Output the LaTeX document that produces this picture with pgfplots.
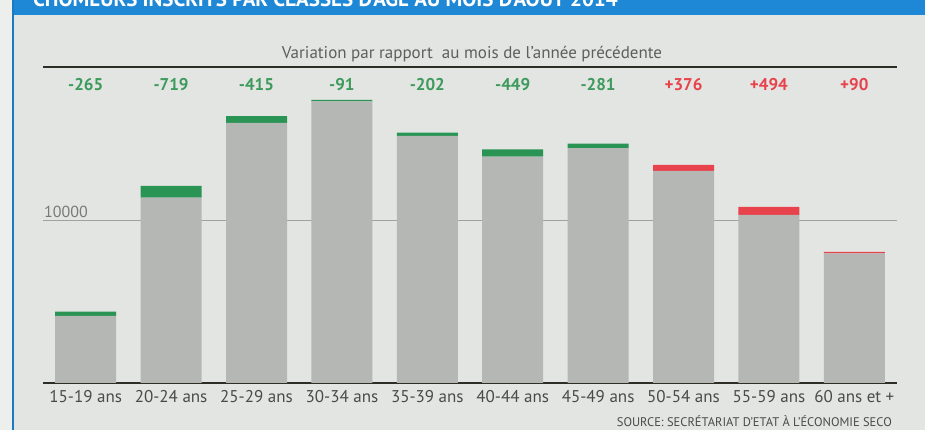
\documentclass[border=0pt]{standalone}
\usepackage{fontspec}
\setmainfont{PT Sans}
\usepackage{pgfplots}
\pgfplotsset{compat=1.18}
\definecolor{panelbg}{HTML}{E3E5E2}
\definecolor{stripbg}{HTML}{EDEFED}
\definecolor{bannerblue}{HTML}{1E88D6}
\definecolor{bargray}{HTML}{B5B7B5}
\definecolor{bargreen}{HTML}{2A9455}
\definecolor{txtgreen}{HTML}{3D9A5C}
\definecolor{barred}{HTML}{E8424C}
\definecolor{txtdark}{HTML}{4A4A4A}
\definecolor{txtmid}{HTML}{5E5E5E}
\definecolor{gridgray}{HTML}{A0A2A0}
\definecolor{axisdark}{HTML}{2E2E26}
\begin{document}
\begin{tikzpicture}[x=1pt,y=1pt]
\useasboundingbox (0,0) rectangle (925,430);
\begin{scope}
\clip (0,0) rectangle (925,430);
\fill[stripbg] (0,0) rectangle (925,430);
\fill[panelbg] (13,0) rectangle (925,415);
\fill[bannerblue] (12,415) rectangle (925,430);
\draw[bannerblue!90!black, line width=2pt] (12.5,0) -- (12.5,430);
\node[anchor=base west, text=white, inner sep=0pt, font=\bfseries\fontsize{21}{24}\selectfont] at (33,423) {CHÔMEURS INSCRITS PAR CLASSES D'ÂGE AU MOIS D'AOÛT 2014};
\end{scope}
\node[text=txtdark, font=\fontsize{12.5}{14}\selectfont, anchor=base east, inner sep=0pt] at (892,3.5) {SOURCE: SECRÉTARIAT D'ETAT À L'ÉCONOMIE SECO};
\node[text=txtmid, font=\fontsize{17}{20}\selectfont, anchor=base] at (472,371) {Variation par rapport\ \ au mois de l'année précédente};
\begin{axis}[
  at={(43pt,47pt)}, anchor=south west,
  scale only axis, width=854pt, height=316pt,
  xmin=-0.5, xmax=9.5, ymin=0, ymax=19500,
  scaled y ticks=false,
  axis line style={draw=none},
  major tick length=0pt,
  xtick={0,...,9},
  xticklabels={15-19 ans,20-24 ans,25-29 ans,30-34 ans,35-39 ans,40-44 ans,45-49 ans,50-54 ans,55-59 ans,60 ans et +},
  xticklabel style={text=txtdark, font=\fontsize{17}{20}\selectfont, yshift=-4pt},
  ytick={10000}, yticklabels={},
  ymajorgrids, grid style={gridgray, line width=1pt},
  ybar stacked, bar width=61pt,
  clip=false,
]
\addplot[fill=bargray, draw=none] coordinates {(0,4136)(1,11440)(2,16049)(3,17377)(4,15247)(5,13969)(6,14488)(7,13086)(8,10370)(9,7994)};
\addplot[fill=bargreen, draw=none] coordinates {(0,265)(1,719)(2,415)(3,91)(4,202)(5,449)(6,281)(7,0)(8,0)(9,0)};
\addplot[fill=barred, draw=none] coordinates {(0,0)(1,0)(2,0)(3,0)(4,0)(5,0)(6,0)(7,376)(8,494)(9,90)};
\draw[axisdark, line width=2.5pt] (axis cs:-0.5,0) -- (axis cs:9.5,0);
\draw[axisdark, line width=2pt] (axis cs:-0.5,19500) -- (axis cs:9.5,19500);
\node[anchor=south west, text=gridgray!75!black, font=\fontsize{16}{19}\selectfont, inner sep=1pt] at (axis cs:-0.5,10100) {10000};
\foreach \i/\v/\c in {0/-265/txtgreen,1/-719/txtgreen,2/-415/txtgreen,3/-91/txtgreen,4/-202/txtgreen,5/-449/txtgreen,6/-281/txtgreen,7/+376/barred,8/+494/barred,9/+90/barred}{
  \edef\temp{\noexpand\node[text=\c, font=\noexpand\bfseries\noexpand\fontsize{17}{20}\noexpand\selectfont] at (axis cs:\i,18400) {\v};}
  \temp
}
\end{axis}
\end{tikzpicture}
\end{document}
